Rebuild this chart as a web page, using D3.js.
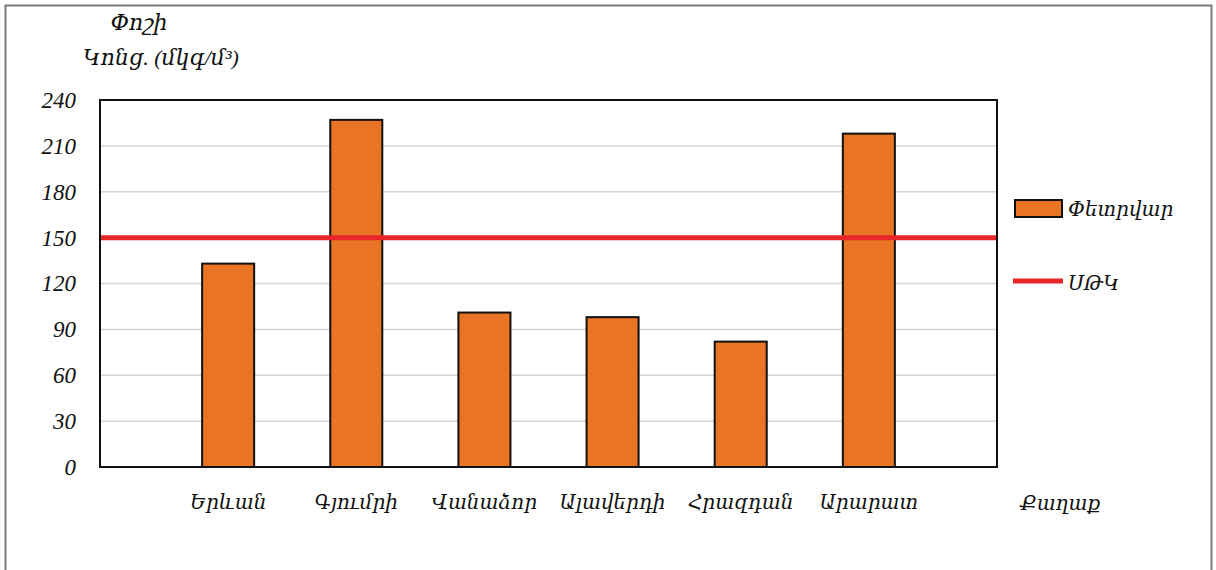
<!DOCTYPE html>
<html>
<head>
<meta charset="utf-8">
<script src="https://cdn.jsdelivr.net/npm/d3@7"></script>
<style>
  body { margin: 0; background: #fff; }
  text { font-family: "Liberation Serif", "DejaVu Serif", serif; font-style: italic; fill: #111; }
</style>
</head>
<body>
<div id="chart"></div>
<script>
// data
var cities = ['Երևան', 'Գյումրի', 'Վանաձոր', 'Ալավերդի', 'Հրազդան', 'Արարատ'];
var february = [133, 227, 101, 98, 82, 218];
var limitValue = 150;
var yTicks = [0, 30, 60, 90, 120, 150, 180, 210, 240];

var width = 1216, height = 570;
var margin = { top: 100, right: 219, bottom: 103, left: 100 };
var chart_width = width - margin.left - margin.right;
var chart_height = height - margin.top - margin.bottom;

var svg = d3.select('#chart')
    .append('svg')
    .attr('width', width)
    .attr('height', height);

// outer frame
svg.append('rect')
    .attr('x', 5.5).attr('y', 5.5)
    .attr('width', 1206).attr('height', 600)
    .attr('fill', 'none')
    .attr('stroke', '#7a7a7a')
    .attr('stroke-width', 2);

var g = svg.append('g')
    .attr('transform', 'translate(' + margin.left + ',' + margin.top + ')');

var pIn = 0.594;
var x = d3.scaleBand()
    .domain(cities)
    .range([0, chart_width])
    .paddingInner(pIn)
    .paddingOuter((1 + pIn) / 2);

var y = d3.scaleLinear()
    .domain([0, 240])
    .range([chart_height, 0]);

// gridlines
g.selectAll('.grid')
    .data(yTicks.filter(function (d) { return d > 0 && d < 240; }))
    .enter()
    .append('line')
    .attr('x1', 0).attr('x2', chart_width)
    .attr('y1', function (d) { return y(d); })
    .attr('y2', function (d) { return y(d); })
    .attr('stroke', '#d4d4d4')
    .attr('stroke-width', 1.5);

// y axis labels
var yAxis = g.append('g')
    .call(d3.axisLeft(y).tickValues(yTicks).tickSize(0).tickPadding(24));
yAxis.select('.domain').remove();
yAxis.selectAll('text')
    .attr('font-size', 23)
    .style('font-family', '"Liberation Serif", serif')
    .style('font-style', 'italic')
    .attr('fill', '#111');

// bars
g.selectAll('.bar')
    .data(february)
    .enter()
    .append('rect')
    .attr('x', function (d, i) { return x(cities[i]); })
    .attr('y', function (d) { return y(d); })
    .attr('width', x.bandwidth())
    .attr('height', function (d) { return chart_height - y(d); })
    .attr('fill', '#e87424')
    .attr('stroke', '#111')
    .attr('stroke-width', 2);

// limit line
g.append('line')
    .attr('x1', 0).attr('x2', chart_width)
    .attr('y1', y(limitValue)).attr('y2', y(limitValue))
    .attr('stroke', '#e8262a')
    .attr('stroke-width', 5);

// plot border
g.append('rect')
    .attr('x', 0).attr('y', 0)
    .attr('width', chart_width).attr('height', chart_height)
    .attr('fill', 'none')
    .attr('stroke', '#111')
    .attr('stroke-width', 2);

// x axis labels
var xAxis = g.append('g')
    .attr('transform', 'translate(0,' + chart_height + ')')
    .call(d3.axisBottom(x).tickSize(0).tickPadding(28));
xAxis.select('.domain').remove();
xAxis.selectAll('text')
    .attr('font-size', 20)
    .style('font-family', '"DejaVu Serif", serif')
    .style('font-style', 'italic')
    .attr('fill', '#111');

// axis titles
svg.append('text')
    .attr('x', 139).attr('y', 30)
    .attr('text-anchor', 'middle')
    .attr('font-size', 22)
    .text('Փոշի');
svg.append('text')
    .attr('x', 161).attr('y', 65)
    .attr('text-anchor', 'middle')
    .attr('font-size', 22)
    .text('Կոնց. (մկգ/մ³)');
svg.append('text')
    .attr('x', 1060).attr('y', 510)
    .attr('text-anchor', 'middle')
    .attr('font-size', 20)
    .text('Քաղաք');

// legend
var legend = svg.append('g');
legend.append('rect')
    .attr('x', 1015).attr('y', 200)
    .attr('width', 47).attr('height', 17)
    .attr('fill', '#e87424')
    .attr('stroke', '#111')
    .attr('stroke-width', 2);
legend.append('text')
    .attr('x', 1068).attr('y', 216)
    .attr('font-size', 20)
    .text('Փետրվար');
legend.append('line')
    .attr('x1', 1013).attr('x2', 1063)
    .attr('y1', 281).attr('y2', 281)
    .attr('stroke', '#e8262a')
    .attr('stroke-width', 5);
legend.append('text')
    .attr('x', 1068).attr('y', 290)
    .attr('font-size', 20)
    .text('ՍԹԿ');
</script>
</body>
</html>
